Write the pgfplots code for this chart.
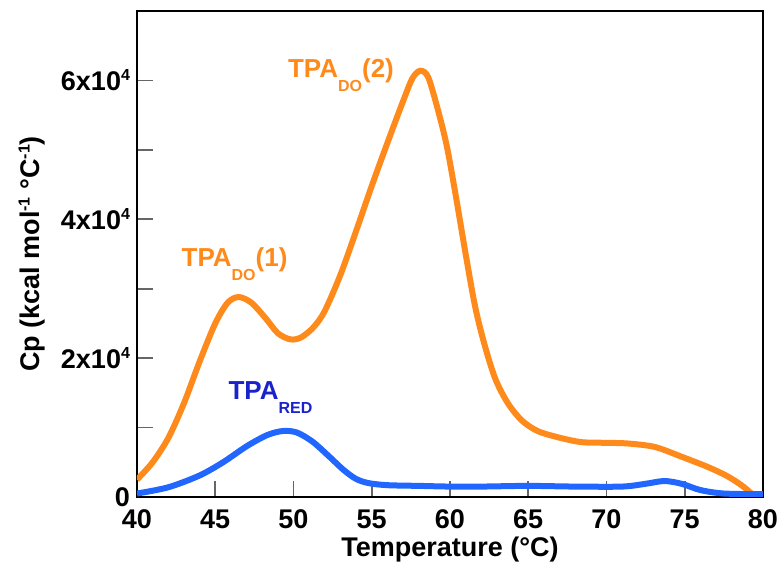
\documentclass[border=0pt]{standalone}
\usepackage{pgfplots}
\pgfplotsset{compat=1.18}
\usepackage{fontspec}
\setmainfont{Liberation Sans}
\definecolor{do}{HTML}{FF8A1C}
\definecolor{red}{HTML}{2166FF}
\definecolor{redtxt}{HTML}{1A22CC}
\newcommand{\sub}[1]{\raisebox{-7pt}{\fontsize{8}{8}\selectfont #1}}
\newcommand{\sups}[1]{\raisebox{5pt}{\fontsize{8}{8}\selectfont #1}}

\begin{document}
\begin{tikzpicture}
\path[use as bounding box] (-68.5pt,-34.5pt) rectangle (323pt,248.5pt);
\begin{axis}[scale only axis, width=313pt, height=243pt,
  xmin=40, xmax=80, ymin=0, ymax=70000,
  xtick={40,45,...,80},
  ytick={0,10000,20000,30000,40000,50000,60000},
  yticklabels={0,,2x10\sups{4},,4x10\sups{4},,6x10\sups{4}},
  scaled y ticks=false,
  xtick pos=bottom, ytick pos=left, tick align=inside,
  major tick length=8pt,
  tick style={draw=black!60, line width=0.8pt},
  axis line style={line width=1.4pt},
  /pgf/number format/assume math mode=true,
  ticklabel style={font=\fontsize{13.5}{15}\selectfont\bfseries},
  xticklabel style={yshift=-3pt},
  label style={font=\fontsize{13.5}{15}\selectfont\bfseries},
  xlabel={Temperature (°C)},
  ylabel={Cp (kcal mol\sups{-1} °C\sups{-1})},
  xlabel style={at={(axis description cs:0.5,0)}, anchor=center, yshift=-26.5pt},
  ylabel style={at={(axis description cs:-0.168,0.5)}, anchor=center},
]
% TPA_DO
\addplot[do, line width=3pt, smooth] coordinates {
(40,2500) (41,5000) (42,8500) (43,13500) (44,19500) (45,25000)
(45.8,28000) (46.5,28800) (47.3,28000) (48.2,25800) (49.0,23600) (49.8,22700)
(50.5,23000) (51.3,24500) (52.0,26800) (53,32000) (54,38300) (55,44800)
(56,51000) (57,57000) (57.6,60300) (58.1,61400) (58.6,60500) (59.2,56000)
(59.8,50500) (60.4,43000) (61.0,35000) (61.6,27500) (62.2,22000) (62.9,17000)
(63.7,13500) (64.6,11000) (65.6,9500) (66.9,8600) (68.4,7900) (70.1,7800)
(71.4,7700) (73.1,7200) (74.8,5800) (76.5,4300) (77.8,2900) (78.8,1400) (79.5,0)
};
% TPA_RED
\addplot[red, line width=3pt, smooth] coordinates {
(40,500) (42,1400) (44,3100) (45.5,5000) (47,7300) (48.3,8900) (49.3,9500)
(50.2,9300) (51.2,8000) (52.2,6000) (53.2,3900) (54,2600) (54.8,2000)
(56,1700) (58,1600) (60,1500) (62,1500) (65,1600) (68,1500) (71,1500)
(72.5,1900) (73.7,2300) (74.8,1900) (76,1000) (77.5,500) (80,400)
};
\node[anchor=base west, text=do, font=\fontsize{13}{15}\selectfont\bfseries]
  at (axis cs:49.2,60400) {TPA\sub{DO}(2)};
\node[anchor=base west, text=do, font=\fontsize{13}{15}\selectfont\bfseries]
  at (axis cs:42.4,33200) {TPA\sub{DO}(1)};
\node[anchor=base west, text=redtxt, font=\fontsize{13}{15}\selectfont\bfseries]
  at (axis cs:45.4,14000) {TPA\sub{RED}};
\end{axis}
\end{tikzpicture}
\end{document}
